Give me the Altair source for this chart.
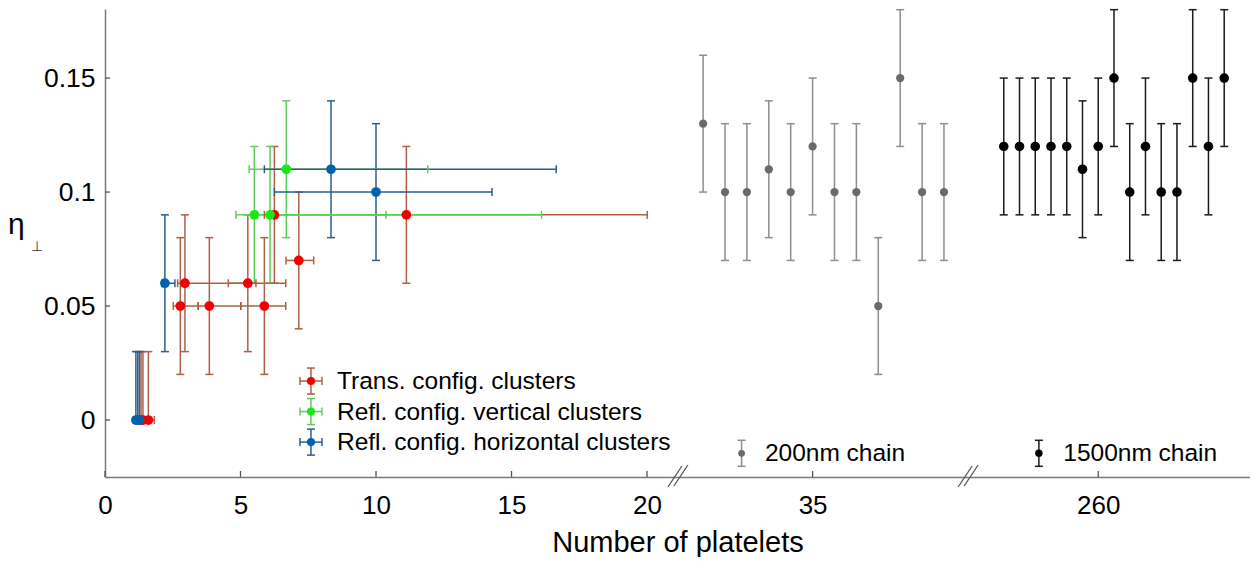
import altair as alt
import pandas as pd

FONT = "Liberation Sans"

# ---------------- data ----------------
# Trans. config. clusters
trans_n   = [1.33, 1.40, 1.60, 2.95, 5.27, 2.78, 3.85, 5.88, 7.15, 6.25, 11.12]
trans_eta = [0.00, 0.00, 0.00, 0.06, 0.06, 0.05, 0.05, 0.05, 0.07, 0.09, 0.09]
trans_nlo = [1.26, 1.32, 1.45, 2.68, 4.55, 2.52, 3.44, 5.01, 6.68, 5.88, 6.25]
trans_nhi = [1.40, 1.47, 1.82, 5.57, 6.67, 3.44, 5.01, 6.67, 7.70, 6.25, 20.01]
trans_elo = [0.00, 0.00, 0.00, 0.03, 0.03, 0.03, 0.03, 0.03, 0.03, 0.03, 0.03]
trans_ehi = [0.03, 0.03, 0.03, 0.03, 0.03, 0.03, 0.03, 0.03, 0.03, 0.03, 0.03]

# Refl. config. vertical clusters
vert_n   = [5.51, 6.09, 6.69]
vert_eta = [0.09, 0.09, 0.11]
vert_nlo = [4.83, 5.60, 5.32]
vert_nhi = [10.37, 16.11, 11.91]
vert_elo = [0.03, 0.03, 0.03]
vert_ehi = [0.03, 0.03, 0.03]

# Refl. config. horizontal clusters
horz_n   = [1.14, 1.21, 1.27, 2.21, 8.34, 10.00]
horz_eta = [0.00, 0.00, 0.00, 0.06, 0.11, 0.10]
horz_nlo = [1.08, 1.15, 1.20, 2.10, 5.88, 6.25]
horz_nhi = [1.20, 1.27, 1.33, 2.58, 16.65, 14.28]
horz_elo = [0.00, 0.00, 0.00, 0.03, 0.03, 0.03]
horz_ehi = [0.03, 0.03, 0.03, 0.03, 0.03, 0.03]

# 200nm chain samples (N = 35)
chain200_eta = [0.13, 0.10, 0.10, 0.11, 0.10, 0.12, 0.10, 0.10, 0.05, 0.15, 0.10, 0.10]
chain200_err = [0.03, 0.03, 0.03, 0.03, 0.03, 0.03, 0.03, 0.03, 0.03, 0.03, 0.03, 0.03]

# 1500nm chain samples (N = 260)
chain1500_eta = [0.12, 0.12, 0.12, 0.12, 0.12, 0.11, 0.12, 0.15, 0.10, 0.12, 0.10, 0.10, 0.15, 0.12, 0.15]
chain1500_err = [0.03, 0.03, 0.03, 0.03, 0.03, 0.03, 0.03, 0.03, 0.03, 0.03, 0.03, 0.03, 0.03, 0.03, 0.03]

x_tick_labels = ["0", "5", "10", "15", "20", "35", "260"]
x_tick_linear = [0, 5, 10, 15, 20]
y_tick_values = [0, 0.05, 0.1, 0.15]

series_labels = ["Trans. config. clusters", "Refl. config. vertical clusters",
                 "Refl. config. horizontal clusters", "200nm chain", "1500nm chain"]

# ---------------- broken-axis layout (display units) ----------------
U_MAX = 42.25
U35, U260 = 26.11, 36.65          # where the 35 / 260 sections are centred
STEP200, CENTER200 = 0.808, 5
STEP1500, CENTER1500 = 0.581, 6
BREAKS = [21.14, 31.85]
Y_DOMAIN = [-0.025, 0.1803]

PT = {"trans": "#f00000", "vert": "#18e818", "horz": "#0061ad", "c200": "#6a6a6a", "c1500": "#000000"}
BAR = {"trans": "#ad6045", "vert": "#5ccf5c", "horz": "#2d5d88", "c200": "#8e8e8e", "c1500": "#1a1a1a"}
SZ = {"trans": 95, "vert": 95, "horz": 95, "c200": 68, "c1500": 92}


def cluster(key, n, eta, nlo, nhi, elo, ehi):
    return pd.DataFrame({
        "key": key, "x": n, "eta": eta, "xlo": nlo, "xhi": nhi,
        "ylo": [e - a for e, a in zip(eta, elo)],
        "yhi": [e + b for e, b in zip(eta, ehi)],
    })


def chain(key, eta, err, center_u, step, center_idx):
    xs = [center_u + (i - center_idx) * step for i in range(len(eta))]
    return pd.DataFrame({
        "key": key, "x": xs, "eta": eta, "xlo": xs, "xhi": xs,
        "ylo": [e - a for e, a in zip(eta, err)],
        "yhi": [e + a for e, a in zip(eta, err)],
    })


df = pd.concat([
    cluster("trans", trans_n, trans_eta, trans_nlo, trans_nhi, trans_elo, trans_ehi),
    cluster("vert", vert_n, vert_eta, vert_nlo, vert_nhi, vert_elo, vert_ehi),
    cluster("horz", horz_n, horz_eta, horz_nlo, horz_nhi, horz_elo, horz_ehi),
    chain("c200", chain200_eta, chain200_err, U35, STEP200, CENTER200),
    chain("c1500", chain1500_eta, chain1500_err, U260, STEP1500, CENTER1500),
], ignore_index=True)
df["barcol"] = df["key"].map(BAR)
df["ptcol"] = df["key"].map(PT)
df["sz"] = df["key"].map(SZ)
df["hasx"] = df["xhi"] > df["xlo"] + 1e-9

order = {"trans": 0, "horz": 1, "vert": 2, "c200": 3, "c1500": 4}
df_pts = df.assign(o=df["key"].map(order)).sort_values("o", kind="stable")

# legend (placed in data coordinates)
leg = pd.DataFrame({
    "key": ["trans", "vert", "horz", "c200", "c1500"],
    "label": series_labels,
    "cx": [7.60, 7.60, 7.60, 23.49, 34.46],
    "tx": [8.56, 8.56, 8.56, 24.35, 35.36],
    "cy": [0.0171, 0.0037, -0.0097, -0.0146, -0.0146],
    "hasx": [True, True, True, False, False],
})
leg["barcol"] = leg["key"].map(BAR)
leg["ptcol"] = leg["key"].map(PT)
leg["sz"] = [66, 66, 66, 45, 55]

xtick_vals = x_tick_linear + [U35, U260]
label_expr = (f"abs(datum.value-{U35})<0.01 ? '35' : abs(datum.value-{U260})<0.01 ? '260' : datum.label")

X_AXIS = alt.Axis(values=xtick_vals, labelExpr=label_expr, format="~g",
                  title="Number of platelets", titleFont=FONT, titleFontSize=29,
                  titleFontWeight="normal", titleColor="black", titleBaseline="alphabetic", titleY=74,
                  labelFont=FONT, labelFontSize=26, labelColor="black", labelPadding=15,
                  ticks=False, tickSize=0, domainColor="#7a7a7a", domainWidth=1.5, grid=False,
                  labelOverlap=False, labelFlush=False)
Y_AXIS = alt.Axis(values=y_tick_values, format="~g", title=None,
                  labelFont=FONT, labelFontSize=26.5, labelColor="black", labelPadding=10,
                  ticks=False, tickSize=0, domainColor="#7a7a7a", domainWidth=1.5, grid=False)
XS = alt.Scale(domain=[0, U_MAX], nice=False, zero=False)
YS = alt.Scale(domain=Y_DOMAIN, nice=False, zero=False)


def X(f):
    return alt.X(f, scale=XS, axis=X_AXIS)


def Y(f):
    return alt.Y(f, scale=YS, axis=Y_AXIS)


bar_col = alt.Color("barcol:N", scale=None)
pt_col = alt.Color("ptcol:N", scale=None)
SW = 1.5

base = alt.Chart(df)
vbar = base.mark_rule(strokeWidth=SW).encode(x=X("x:Q"), y=Y("ylo:Q"), y2="yhi", color=bar_col)
vcap_t = base.mark_rule(strokeWidth=SW, xOffset=-4, x2Offset=4).encode(
    x=X("x:Q"), x2="x", y=Y("yhi:Q"), y2="yhi", color=bar_col)
vcap_b = base.mark_rule(strokeWidth=SW, xOffset=-4, x2Offset=4).encode(
    x=X("x:Q"), x2="x", y=Y("ylo:Q"), y2="ylo", color=bar_col)
hb = base.transform_filter("datum.hasx")
hbar = hb.mark_rule(strokeWidth=SW).encode(x=X("xlo:Q"), x2="xhi", y=Y("eta:Q"), y2="eta", color=bar_col)
hcap_l = hb.mark_rule(strokeWidth=SW, yOffset=-4, y2Offset=4).encode(
    x=X("xlo:Q"), x2="xlo", y=Y("eta:Q"), y2="eta", color=bar_col)
hcap_r = hb.mark_rule(strokeWidth=SW, yOffset=-4, y2Offset=4).encode(
    x=X("xhi:Q"), x2="xhi", y=Y("eta:Q"), y2="eta", color=bar_col)
points = alt.Chart(df_pts).mark_circle(opacity=1).encode(
    x=X("x:Q"), y=Y("eta:Q"), color=pt_col, size=alt.Size("sz:Q", scale=None))

# legend glyphs
lb = alt.Chart(leg)
l_v = lb.mark_rule(strokeWidth=SW, yOffset=-13, y2Offset=13).encode(
    x=X("cx:Q"), x2="cx", y=Y("cy:Q"), y2="cy", color=bar_col)
l_vt = lb.mark_rule(strokeWidth=SW, yOffset=-13, y2Offset=-13, xOffset=-4, x2Offset=4).encode(
    x=X("cx:Q"), x2="cx", y=Y("cy:Q"), y2="cy", color=bar_col)
l_vb = lb.mark_rule(strokeWidth=SW, yOffset=13, y2Offset=13, xOffset=-4, x2Offset=4).encode(
    x=X("cx:Q"), x2="cx", y=Y("cy:Q"), y2="cy", color=bar_col)
lh = lb.transform_filter("datum.hasx")
l_h = lh.mark_rule(strokeWidth=SW, xOffset=-11, x2Offset=11).encode(
    x=X("cx:Q"), x2="cx", y=Y("cy:Q"), y2="cy", color=bar_col)
l_hl = lh.mark_rule(strokeWidth=SW, xOffset=-11, x2Offset=-11, yOffset=-4, y2Offset=4).encode(
    x=X("cx:Q"), x2="cx", y=Y("cy:Q"), y2="cy", color=bar_col)
l_hr = lh.mark_rule(strokeWidth=SW, xOffset=11, x2Offset=11, yOffset=-4, y2Offset=4).encode(
    x=X("cx:Q"), x2="cx", y=Y("cy:Q"), y2="cy", color=bar_col)
l_p = lb.mark_circle(opacity=1).encode(x=X("cx:Q"), y=Y("cy:Q"), color=pt_col, size=alt.Size("sz:Q", scale=None))
l_t = lb.mark_text(align="left", baseline="middle", font=FONT, fontSize=24.5, color="black", dy=1).encode(
    x=X("tx:Q"), y=Y("cy:Q"), text="label:N")

# inward ticks
xt = alt.Chart(pd.DataFrame({"v": xtick_vals, "b": Y_DOMAIN[0]})).mark_rule(
    strokeWidth=1.3, color="#555555", y2Offset=-6).encode(x=X("v:Q"), x2="v", y=Y("b:Q"), y2="b")
yt = alt.Chart(pd.DataFrame({"v": y_tick_values, "b": 0.0})).mark_rule(
    strokeWidth=1.3, color="#555555", x2Offset=5).encode(x=X("b:Q"), x2="b", y=Y("v:Q"), y2="v")

# axis break marks
bk = alt.Chart(pd.DataFrame({"b": BREAKS, "y": Y_DOMAIN[0]}))
s1 = bk.mark_rule(strokeWidth=1.3, color="#555555", xOffset=-10, x2Offset=4, yOffset=10, y2Offset=-11).encode(
    x=X("b:Q"), x2="b", y=Y("y:Q"), y2="y")
s2 = bk.mark_rule(strokeWidth=1.3, color="#555555", xOffset=-4, x2Offset=10, yOffset=9, y2Offset=-12).encode(
    x=X("b:Q"), x2="b", y=Y("y:Q"), y2="y")

# y-axis title: eta with perpendicular subscript
eta_t = alt.Chart(pd.DataFrame({"t": ["η"]})).mark_text(
    align="left", baseline="alphabetic", font=FONT, fontSize=30, color="black").encode(
    x=alt.value(-97), y=alt.value(225), text="t:N")
perp_t = alt.Chart(pd.DataFrame({"t": ["⊥"]})).mark_text(
    align="left", baseline="alphabetic", font=FONT, fontSize=14, color="#333333").encode(
    x=alt.value(-74), y=alt.value(242), text="t:N")

chart = alt.layer(
    xt, yt, s1, s2,
    vbar, vcap_t, vcap_b, hbar, hcap_l, hcap_r, points,
    l_v, l_vt, l_vb, l_h, l_hl, l_hr, l_p, l_t,
    eta_t, perp_t,
).properties(
    width=1145, height=468,
    background="white",
    autosize=alt.AutoSizeParams(type="none"),
    padding={"left": 97, "top": 1, "right": 0, "bottom": 80},
).configure_view(stroke=None, strokeWidth=0)

chart.save("out.html", embed_options={"renderer": "svg", "actions": False})
